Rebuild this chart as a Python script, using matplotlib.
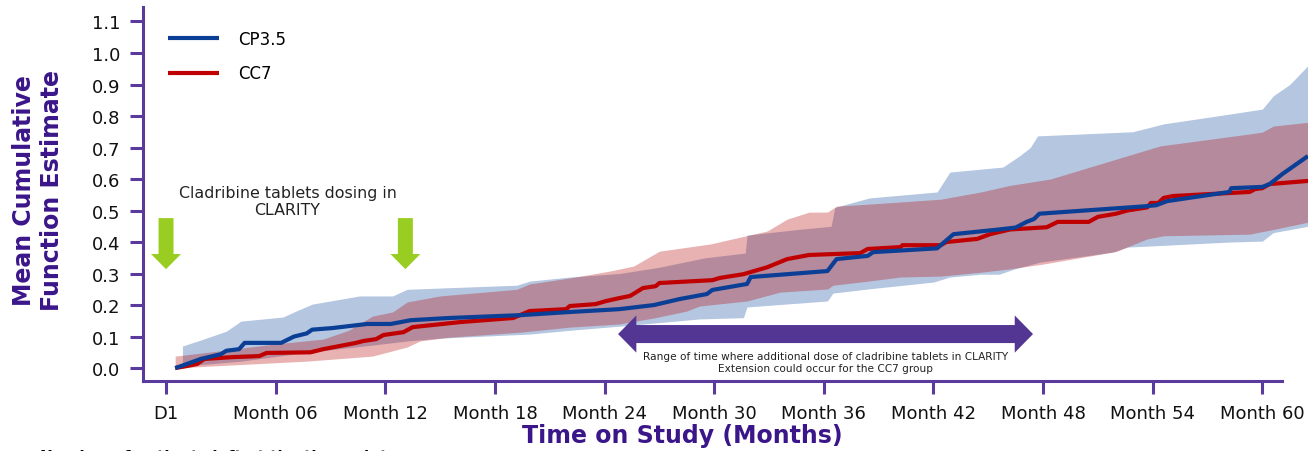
import numpy as np
import matplotlib
matplotlib.use("Agg")
import matplotlib.pyplot as plt
from matplotlib.patches import FancyArrow, Polygon

# ------------------------------
# Data
# ------------------------------
cp35_month = [0.5, 1.0, 1.9, 3.0, 3.3, 4.0, 4.3, 6.3, 7.0, 7.7, 8.0, 9.1, 11.0, 12.3, 13.4,
              15.5, 19.4, 22.1, 24.8, 26.7, 28.1, 29.6, 29.9, 31.8, 32.0, 36.2, 36.7, 38.4,
              38.7, 42.2, 43.1, 45.6, 46.5, 47.1, 47.5, 47.8, 53.7, 54.2, 54.8, 58.2, 58.3,
              60.0, 60.4, 61.1, 62.5]
cp35_mcf = [0.0, 0.01, 0.029, 0.044, 0.055, 0.06, 0.08, 0.08, 0.10, 0.11, 0.122, 0.127, 0.14,
            0.14, 0.152, 0.159, 0.168, 0.178, 0.187, 0.20, 0.219, 0.235, 0.248, 0.267, 0.289,
            0.308, 0.346, 0.356, 0.368, 0.38, 0.425, 0.44, 0.446, 0.464, 0.473, 0.49, 0.514,
            0.517, 0.53, 0.559, 0.571, 0.575, 0.584, 0.616, 0.673]

cc7_month = [0.5, 1.1, 1.7, 2.1, 3.7, 5.1, 5.5, 7.9, 8.6, 10.4, 10.8, 11.5, 11.9, 13.0, 13.5,
             16.1, 19.0, 19.9, 21.9, 22.1, 23.5, 24.1, 24.8, 25.4, 26.1, 26.8, 27.0, 29.9,
             30.3, 31.6, 32.9, 34.0, 35.2, 38.0, 38.4, 40.2, 40.3, 42.4, 42.7, 44.4, 45.1,
             46.2, 48.2, 48.8, 50.5, 51.0, 52.0, 52.6, 53.7, 53.9, 54.3, 54.6, 55.1, 59.3,
             59.6, 60.0, 60.4, 62.5]
cc7_mcf = [0.0, 0.006, 0.013, 0.029, 0.035, 0.038, 0.048, 0.05, 0.06, 0.08, 0.086, 0.092,
           0.105, 0.114, 0.13, 0.146, 0.159, 0.181, 0.187, 0.197, 0.203, 0.213, 0.222, 0.229,
           0.254, 0.26, 0.27, 0.279, 0.286, 0.298, 0.32, 0.346, 0.359, 0.365, 0.378, 0.384,
           0.39, 0.39, 0.40, 0.41, 0.425, 0.44, 0.447, 0.464, 0.464, 0.48, 0.49, 0.50, 0.51,
           0.524, 0.524, 0.54, 0.546, 0.559, 0.568, 0.571, 0.584, 0.594]

# 95% confidence bands
cp35_hi_month = [0.9, 1.9, 3.3, 4.1, 6.4, 7.0, 8.0, 10.6, 12.4, 13.2, 15.0, 19.2, 19.9, 22.1,
                 24.8, 27.0, 29.5, 31.7, 31.8, 34.6, 36.4, 36.6, 38.5, 42.2, 42.9, 45.8, 46.7,
                 47.3, 47.7, 52.9, 54.6, 58.2, 60.0, 60.6, 61.5, 62.5]
cp35_hi = [0.07, 0.089, 0.117, 0.149, 0.162, 0.178, 0.203, 0.229, 0.229, 0.25, 0.254, 0.263,
           0.276, 0.289, 0.30, 0.32, 0.35, 0.365, 0.422, 0.44, 0.45, 0.51, 0.54, 0.559, 0.622,
           0.638, 0.673, 0.70, 0.737, 0.75, 0.775, 0.806, 0.822, 0.864, 0.90, 0.96]
cp35_lo_month = [0.9, 4.1, 7.7, 11.3, 13.2, 15.0, 19.9, 22.1, 24.8, 29.2, 31.6, 31.7, 31.8,
                 36.2, 36.5, 38.4, 42.0, 42.9, 44.6, 45.6, 46.4, 47.8, 51.8, 52.6, 53.7, 58.2,
                 60.0, 60.6, 62.5]
cp35_lo = [0.006, 0.022, 0.05, 0.073, 0.086, 0.095, 0.108, 0.12, 0.133, 0.156, 0.16, 0.178,
           0.194, 0.213, 0.238, 0.251, 0.273, 0.289, 0.298, 0.298, 0.314, 0.336, 0.368, 0.384,
           0.387, 0.40, 0.403, 0.43, 0.45]

cc7_hi_month = [0.5, 2.3, 5.9, 8.6, 10.0, 11.3, 12.4, 13.2, 13.5, 15.0, 19.2, 19.9, 22.1, 24.3,
                25.6, 27.0, 29.8, 31.0, 32.9, 34.0, 35.2, 36.2, 36.7, 38.4, 42.4, 44.6, 46.2,
                48.4, 54.4, 59.3, 60.0, 60.6, 62.5]
cc7_hi = [0.038, 0.05, 0.076, 0.092, 0.12, 0.165, 0.178, 0.21, 0.213, 0.229, 0.25, 0.267,
          0.286, 0.308, 0.324, 0.371, 0.394, 0.41, 0.435, 0.473, 0.495, 0.495, 0.514, 0.52,
          0.536, 0.559, 0.58, 0.60, 0.705, 0.743, 0.749, 0.768, 0.78]
cc7_lo_month = [0.5, 2.3, 7.7, 11.3, 13.2, 13.9, 15.5, 19.4, 22.1, 24.8, 26.7, 28.5, 29.2,
                31.8, 33.6, 36.2, 36.5, 38.0, 40.2, 42.4, 44.7, 46.2, 48.0, 52.0, 53.7, 54.6,
                59.3, 60.6, 62.5]
cc7_lo = [0.0, 0.006, 0.022, 0.038, 0.067, 0.086, 0.098, 0.114, 0.13, 0.14, 0.159, 0.181,
          0.197, 0.213, 0.241, 0.251, 0.263, 0.273, 0.289, 0.292, 0.305, 0.315, 0.33, 0.37,
          0.41, 0.42, 0.425, 0.44, 0.463]

x_ticks = [0, 6, 12, 18, 24, 30, 36, 42, 48, 54, 60]
x_tick_labels = ["D1", "Month 06", "Month 12", "Month 18", "Month 24", "Month 30",
                 "Month 36", "Month 42", "Month 48", "Month 54", "Month 60"]
y_ticks = [0.0, 0.1, 0.2, 0.3, 0.4, 0.5, 0.6, 0.7, 0.8, 0.9, 1.0, 1.1]

dosing_months = [0, 13.1]          # green arrows
extension_range = [24.74, 47.45]   # purple double arrow

# ------------------------------
# Colours
# ------------------------------
AXIS_PURPLE = "#5B3A9E"
LABEL_PURPLE = "#3B168A"
BLUE = "#0B3F96"
RED = "#C00000"
BLUE_BAND = "#B4C6E0"
GREEN = "#9ACD22"
ARROW_PURPLE = "#533594"

# ------------------------------
# Figure
# ------------------------------
fig = plt.figure(figsize=(13.08, 4.52), dpi=100)
W, H = 1308, 452
ax = fig.add_axes([143 / W, (H - 382) / H, (W - 143) / W, (382 - 8) / H])

x_min, x_max = -1.26, 62.5
y_min, y_max = -0.041, 1.146
ax.set_xlim(x_min, x_max)
ax.set_ylim(y_min, y_max)

# bands (interpolated to a common grid only for filling)
def band(lo_x, lo_y, hi_x, hi_y):
    grid = np.unique(np.concatenate([lo_x, hi_x]))
    grid = grid[(grid >= max(lo_x[0], hi_x[0])) & (grid <= min(lo_x[-1], hi_x[-1]))]
    return grid, np.interp(grid, lo_x, lo_y), np.interp(grid, hi_x, hi_y)

g, lo, hi = band(cp35_lo_month, cp35_lo, cp35_hi_month, cp35_hi)
ax.fill_between(g, lo, hi, color=BLUE_BAND, linewidth=0, zorder=1)
g, lo, hi = band(cc7_lo_month, cc7_lo, cc7_hi_month, cc7_hi)
ax.fill_between(g, lo, hi, color="#B60000", alpha=0.3, linewidth=0, zorder=2)

ax.plot(cc7_month, cc7_mcf, color=RED, linewidth=3, zorder=4, label="CC7",
        solid_capstyle="butt")
ax.plot(cp35_month, cp35_mcf, color=BLUE, linewidth=3, zorder=5, label="CP3.5",
        solid_capstyle="butt")

# green dosing arrows
for m in dosing_months:
    ax.add_patch(FancyArrow(m, 0.476, 0, -0.162, width=0.82, head_width=1.64,
                            head_length=0.048, length_includes_head=True,
                            color=GREEN, linewidth=0, zorder=6))
ax.text(np.mean(dosing_months) + 0.1, 0.53, "Cladribine tablets dosing in\nCLARITY",
        ha="center", va="center", fontsize=11.4, color="#222222", linespacing=1.2)

# purple double arrow for extension dosing range
a0, a1 = extension_range
ay, shaft, head, hl = 0.108, 0.0286, 0.059, 1.0
pts = [(a0, ay), (a0 + hl, ay + head), (a0 + hl, ay + shaft), (a1 - hl, ay + shaft),
       (a1 - hl, ay + head), (a1, ay), (a1 - hl, ay - head), (a1 - hl, ay - shaft),
       (a0 + hl, ay - shaft), (a0 + hl, ay - head)]
ax.add_patch(Polygon(pts, closed=True, color=ARROW_PURPLE, linewidth=0, zorder=6))
ax.text(36.1, 0.018, "Range of time where additional dose of cladribine tablets in CLARITY\n"
        "Extension could occur for the CC7 group", ha="center", va="center",
        fontsize=7.6, color="#222222", linespacing=1.25)

# axes styling
for side in ["top", "right"]:
    ax.spines[side].set_visible(False)
for side in ["left", "bottom"]:
    ax.spines[side].set_color(AXIS_PURPLE)
    ax.spines[side].set_linewidth(2.2)
ax.spines["bottom"].set_bounds(x_min, 61.1)

ax.set_xticks(x_ticks)
ax.set_xticklabels(x_tick_labels)
ax.set_yticks(y_ticks)
ax.set_yticklabels([f"{v:.1f}" for v in y_ticks])
ax.tick_params(axis="both", colors=AXIS_PURPLE, length=9.5, width=2.2, labelsize=13,
               labelcolor="#111111", pad=7)

ax.set_xlabel("Time on Study (Months)", fontsize=17, fontweight="bold", color=LABEL_PURPLE)
ax.xaxis.set_label_coords((682 - 143) / 1165, -0.112)
ax.set_ylabel("Mean Cumulative\nFunction Estimate", fontsize=17, fontweight="bold",
              color=LABEL_PURPLE, linespacing=1.2)
ax.yaxis.set_label_coords(-0.068, 0.513)

handles, labels = ax.get_legend_handles_labels()
ax.legend(handles[::-1], labels[::-1], loc="upper left", bbox_to_anchor=(0.0155, 0.957),
          borderaxespad=0, frameon=False, fontsize=12, handlelength=3.1,
          handletextpad=1.15, labelspacing=1.0)

# row header of the at-risk table, cut off by the bottom edge as in the source
fig.text(40 / W, -0.022, "Number of patients left at the timepoint", fontsize=11,
         fontweight="bold", color="black", va="baseline")

fig.savefig("out.png", dpi=100)
